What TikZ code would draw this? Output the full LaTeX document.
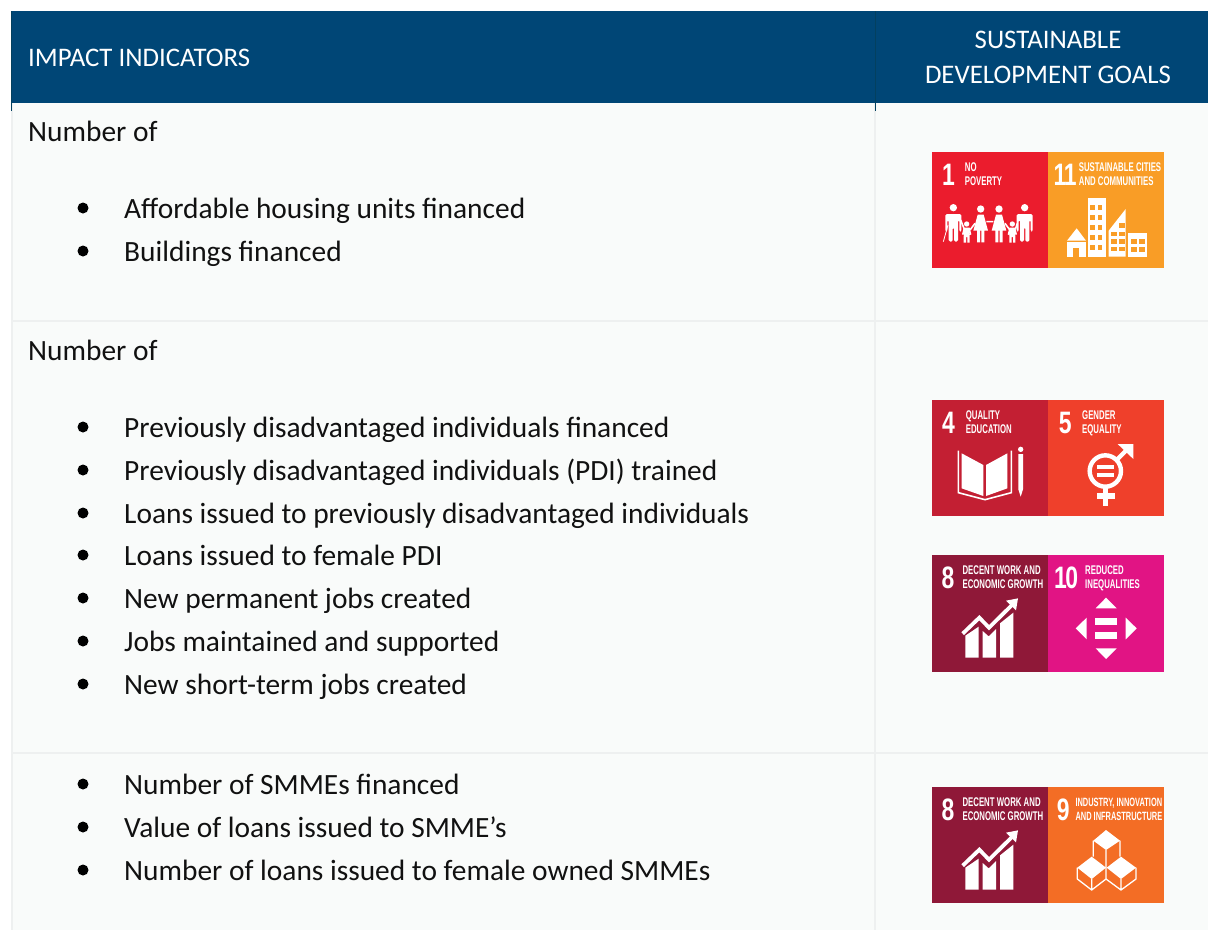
\documentclass[tikz,border=0pt]{standalone}
\usepackage{fontspec}
\setmainfont{Carlito}
\newfontfamily\sdgfont[FakeStretch=0.62]{Liberation Sans}
\newfontfamily\sdgnum[FakeStretch=0.74]{Liberation Sans}
\definecolor{hdr}{HTML}{004676}
\definecolor{hdrline}{HTML}{03405F}
\definecolor{cellbg}{HTML}{F9FBFA}
\definecolor{rule}{HTML}{EEF0F0}
\definecolor{txt}{HTML}{111111}
\definecolor{sdgA}{HTML}{EB1C2D}
\definecolor{sdgK}{HTML}{F99D26}
\definecolor{sdgD}{HTML}{C31F33}
\definecolor{sdgE}{HTML}{EF402B}
\definecolor{sdgH}{HTML}{8F1838}
\definecolor{sdgJ}{HTML}{E11484}
\definecolor{sdgI}{HTML}{F36D25}
\tikzset{
  body/.style={anchor=base west,inner sep=0pt,text=txt,font=\fontsize{29.4}{32}\selectfont},
  headtext/.style={anchor=base,inner sep=0pt,text=white,font=\fontsize{26.8}{30}\selectfont},
  dot/.style={circle,fill=black,inner sep=0pt,minimum size=11pt},
  num/.style={anchor=base west,inner sep=0pt,text=white,font=\sdgnum\bfseries\fontsize{31}{31}\selectfont},
  lab/.style={anchor=base west,inner sep=0pt,text=white,font=\sdgfont\bfseries\fontsize{12.6}{12.6}\selectfont},
}
\newcommand{\chartglyph}{%
  \fill[white] (136,272)--(176,245)--(176,338)--(136,338)--cycle;
  \fill[white] (188,258)--(206,274)--(228,252)--(228,338)--(188,338)--cycle;
  \fill[white] (240,235)--(280,203)--(280,338)--(240,338)--cycle;
  \draw[white,line width=3.8pt,line join=miter] (128,266)--(178,218)--(207,248)--(276,180);
  \fill[white] (258,167)--(294,160)--(288,196)--cycle;
}
\newcommand{\manglyph}[2]{%
  \begin{scope}[shift={(#1,#2)}]
  \fill[white] (0,-19) circle (11);
  \fill[white,rounded corners=1.5pt] (-24,0)--(24,0)--(24,53)--(18,53)--(18,18)--(14,18)--(14,83)--(2,83)--(2,40)--(-2,40)--(-2,83)--(-14,83)--(-14,18)--(-18,18)--(-18,53)--(-24,53)--cycle;
  \end{scope}}
\newcommand{\womanglyph}[2]{%
  \begin{scope}[shift={(#1,#2)}]
  \fill[white] (0,-17) circle (11);
  \fill[white] (-9,0)--(9,0)--(22,48)--(11,48)--(11,83)--(2,83)--(2,48)--(-2,48)--(-2,83)--(-11,83)--(-11,48)--(-22,48)--cycle;
  \end{scope}}
\newcommand{\kidglyph}[2]{%
  \begin{scope}[shift={(#1,#2)}]
  \fill[white] (0,-11) circle (8);
  \fill[white] (-9,0)--(9,0)--(14,20)--(10,22)--(8,12)--(9,28)--(9,45)--(2,45)--(2,28)--(-2,28)--(-2,45)--(-9,45)--(-9,28)--(-8,12)--(-10,22)--(-14,20)--cycle;
  \end{scope}}
\begin{document}
\begin{tikzpicture}[x=1pt,y=-1pt]
\useasboundingbox (0,0) rectangle (1208,930);
\fill[white] (0,0) rectangle (1208,930);
% table
\fill[cellbg] (12,103) rectangle (1208,930);
\draw[rule,line width=1.6pt] (12,321)--(1208,321);
\draw[rule,line width=1.6pt] (12,753)--(1208,753);
\draw[rule,line width=1.6pt] (875,103)--(875,930);
\draw[rule,line width=1.6pt] (12,103)--(12,930);
\fill[hdr] (11,11) rectangle (1208,103);
\draw[hdrline,line width=1pt] (875,11)--(875,111);
\draw[hdrline,line width=1pt] (11.5,11)--(11.5,111);
% header
\node[headtext,anchor=base west] (h1) at (28,66) {IMPACT INDICATORS};
\node[headtext] (h2) at (1048,48.6) {SUSTAINABLE};
\node[headtext] (h3) at (1048,83) {DEVELOPMENT GOALS};
% row 1
\node[body] (r1h) at (28,141) {Number of};
\node[dot] (d1) at (83,208) {}; \node[body] (a1) at (124,218) {Affordable housing units financed};
\node[dot] (d2) at (83,251) {}; \node[body] (a2) at (124,261) {Buildings financed};
% row 2
\node[body] (r2h) at (28,360) {Number of};
\node[dot] (d3) at (83,427) {}; \node[body] (b1) at (124,437) {Previously disadvantaged individuals financed};
\node[dot] (d4) at (83,470) {}; \node[body] (b2) at (124,480) {Previously disadvantaged individuals (PDI) trained};
\node[dot] (d5) at (83,513) {}; \node[body] (b3) at (124,523) {Loans issued to previously disadvantaged individuals};
\node[dot] (d6) at (83,555) {}; \node[body] (b4) at (124,565) {Loans issued to female PDI};
\node[dot] (d7) at (83,598) {}; \node[body] (b5) at (124,608) {New permanent jobs created};
\node[dot] (d8) at (83,641) {}; \node[body] (b6) at (124,651) {Jobs maintained and supported};
\node[dot] (d9) at (83,684) {}; \node[body] (b7) at (124,694) {New short-term jobs created};
% row 3
\node[dot] (d10) at (83,784) {}; \node[body] (c1) at (124,794) {Number of SMMEs financed};
\node[dot] (d11) at (83,827) {}; \node[body] (c2) at (124,837) {Value of loans issued to SMME’s};
\node[dot] (d12) at (83,870) {}; \node[body] (c3) at (124,880) {Number of loans issued to female owned SMMEs};
% ---- goals 1 and 11
\begin{scope}[shift={(920,140)},x=0.33333pt,y=-0.33333pt]
\fill[sdgA] (36,36) rectangle (384,384);
\fill[sdgK] (384,36) rectangle (732,384);
\node[num] (n1) at (66,135) {1};
\node[lab] (l1a) at (134,95) {NO};
\node[lab] (l1b) at (134,135) {POVERTY};
\manglyph{100}{222}
\draw[white,line width=.8pt] (70,305)--(84,255);
\kidglyph{140}{263}
\womanglyph{182}{224}
\womanglyph{237}{224}
\kidglyph{277}{263}
\manglyph{314}{222}
\draw[white,line width=1.6pt] (122,240)--(133,268) (150,270)--(165,250) (199,245)--(220,245) (255,250)--(268,268) (286,268)--(292,250);
\node[num] (n11) at (400,135) {1\kern-2.5pt 1};
\node[lab] (l11a) at (476,95) {SUSTAINABLE CITIES};
\node[lab] (l11b) at (476,135) {AND COMMUNITIES};
\fill[white] (441,302)--(470,265)--(498,302)--cycle;
\fill[white] (441,306) rectangle (497,350);
\fill[sdgK] (460,325) rectangle (478,350);
\fill[white] (504,173) rectangle (558,350);
\foreach \yy in {195,225,255,285,315}
  \foreach \xx in {511,533} \fill[sdgK] (\xx,\yy) rectangle ++(14,14);
\fill[white] (566,350)--(566,272)--(617,207)--(617,350)--cycle;
\foreach \yy in {275,297,320} \foreach \xx in {573,597} \fill[sdgK] (\xx,\yy) rectangle ++(17,14);
\fill[sdgK] (597,250) rectangle ++(17,14);
\fill[white] (625,280) rectangle (680,350);
\foreach \yy in {297,322} \foreach \xx in {632,657} \fill[sdgK] (\xx,\yy) rectangle ++(18,15);
\end{scope}
% ---- goals 4 and 5
\begin{scope}[shift={(920,390)},x=0.33333pt,y=-0.33333pt]
\fill[sdgD] (36,30) rectangle (384,378);
\fill[sdgE] (384,30) rectangle (732,378);
\node[num] (n4) at (66,129) {4};
\node[lab] (l4a) at (137,89) {QUALITY};
\node[lab] (l4b) at (137,129) {EDUCATION};
\fill[white] (125,190)--(190,225)--(190,318)--(125,295)--cycle;
\fill[white] (198,225)--(262,190)--(262,295)--(198,318)--cycle;
\draw[white,line width=1.6pt] (115,182)--(115,308)--(195,329)--(274,308)--(274,182);
\fill[white] (302,178) circle (8);
\fill[white] (295,192)--(309,192)--(309,298)--(302,320)--(295,298)--cycle;
\node[num] (n5) at (416,129) {5};
\node[lab] (l5a) at (486,89) {GENDER};
\node[lab] (l5b) at (486,129) {EQUALITY};
\draw[white,line width=4.4pt] (556,243) circle (47);
\fill[white] (530,225) rectangle (583,238);
\fill[white] (530,248) rectangle (583,260);
\fill[white] (548,292) rectangle (564,348);
\fill[white] (532,310) rectangle (585,326);
\draw[white,line width=4.3pt] (588,212)--(628,172);
\fill[white] (593,162)--(640,162)--(640,207)--cycle;
\end{scope}
% ---- goals 8 and 10
\begin{scope}[shift={(920,545)},x=0.33333pt,y=-0.33333pt]
\fill[sdgH] (36,30) rectangle (384,380);
\fill[sdgJ] (384,30) rectangle (732,380);
\node[num] (n8) at (64,129) {8};
\node[lab] (l8a) at (127,89) {DECENT WORK AND};
\node[lab] (l8b) at (127,129) {ECONOMIC GROWTH};
\chartglyph
\node[num] (n10) at (402,129) {1\kern-1.5pt 0};
\node[lab] (l10a) at (495,89) {REDUCED};
\node[lab] (l10b) at (495,129) {INEQUALITIES};
\fill[white] (527,190)--(558,158)--(590,190)--cycle;
\fill[white] (527,310)--(590,310)--(558,342)--cycle;
\fill[white] (500,218)--(467,250)--(500,283)--cycle;
\fill[white] (617,218)--(650,250)--(617,283)--cycle;
\fill[white] (526,220) rectangle (590,241);
\fill[white] (526,260) rectangle (590,281);
\end{scope}
% ---- goals 8 and 9
\begin{scope}[shift={(920,777)},x=0.33333pt,y=-0.33333pt]
\fill[sdgH] (36,30) rectangle (384,378);
\node[num] (m8) at (64,129) {8};
\node[lab] (m8a) at (127,89) {DECENT WORK AND};
\node[lab] (m8b) at (127,129) {ECONOMIC GROWTH};
\chartglyph
\end{scope}
\begin{scope}[shift={(920,775)},x=0.33333pt,y=-0.33333pt]
\fill[sdgI] (384,36) rectangle (732,384);
\node[num] (n9) at (410,135) {9};
\node[lab,font=\sdgfont\bfseries\fontsize{12}{12}\selectfont] (l9a) at (466,95) {INDUSTRY, INNOVATION};
\node[lab,font=\sdgfont\bfseries\fontsize{12}{12}\selectfont] (l9b) at (466,135) {AND INFRASTRUCTURE};
\fill[white] (520,197)--(558,165)--(600,197)--(558,225)--cycle;
\fill[white] (472,278)--(515,245)--(558,278)--(515,312)--cycle;
\fill[white] (560,278)--(603,245)--(648,278)--(603,312)--cycle;
\draw[white,line width=1.3pt,line join=round]
  (520,197)--(520,245) (600,197)--(600,245) (558,225)--(558,278)
  (472,278)--(472,312)--(515,345)--(558,312)--(558,278)
  (515,312)--(515,345)
  (648,278)--(648,312)--(603,345)--(558,312)
  (603,312)--(603,345);
\end{scope}
\end{tikzpicture}
\end{document}
